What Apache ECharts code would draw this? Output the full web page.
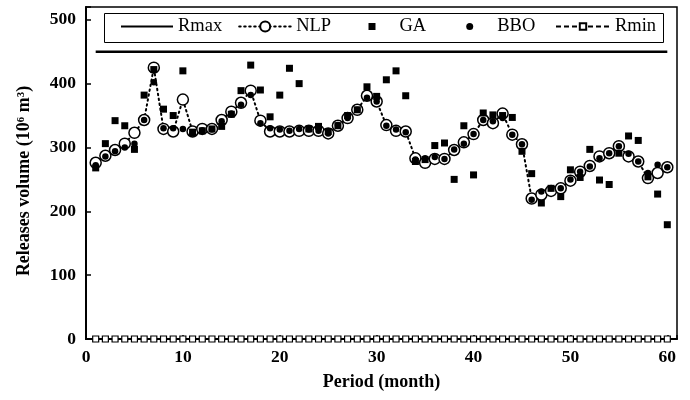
<!DOCTYPE html>
<html>
<head>
<meta charset="utf-8">
<script src="https://cdn.jsdelivr.net/npm/echarts@6/dist/echarts.min.js"></script>
<style>html,body{margin:0;padding:0;background:#fff}#c{width:690px;height:400px}</style>
</head>
<body>
<div id="c"></div>
<script>
const months = [1,2,3,4,5,6,7,8,9,10,11,12,13,14,15,16,17,18,19,20,21,22,23,24,25,26,27,28,29,30,31,32,33,34,35,36,37,38,39,40,41,42,43,44,45,46,47,48,49,50,51,52,53,54,55,56,57,58,59,60];
const rmax = [450,450,450,450,450,450,450,450,450,450,450,450,450,450,450,450,450,450,450,450,450,450,450,450,450,450,450,450,450,450,450,450,450,450,450,450,450,450,450,450,450,450,450,450,450,450,450,450,450,450,450,450,450,450,450,450,450,450,450,450];
const rmin = [0,0,0,0,0,0,0,0,0,0,0,0,0,0,0,0,0,0,0,0,0,0,0,0,0,0,0,0,0,0,0,0,0,0,0,0,0,0,0,0,0,0,0,0,0,0,0,0,0,0,0,0,0,0,0,0,0,0,0,0];
const nlp = [276,287,296,306,323,343,425,329,325,375, 325,329,329,343,356,370,389,342,325,325, 325,326,326,326,322,334,346,359,381,372, 335,326,325,283,276,282,282,296,308,321, 343,338,353,320,305,220,226,232,236,248, 262,271,286,291,302,286,278,252,260,269];
const bbo = [272,286,294,300,306,343,402,330,330,329, 322,327,328,341,353,367,382,338,330,328, 326,329,328,326,322,335,346,359,378,372, 334,328,324,281,283,285,282,297,306,321, 343,341,346,320,305,218,231,236,236,250, 262,270,283,291,302,290,278,260,273,269];
const ga = [268,306,342,334,297,382,422,360,350,420, 324,326,329,333,352,389,429,390,348,382, 424,400,329,333,325,334,350,359,395,380, 406,420,381,278,281,303,307,250,334,257, 354,351,350,347,294,259,213,236,223,265, 253,297,249,242,291,318,311,254,227,179];
const xTicks = [0,10,20,30,40,50,60];
const yTicks = [0,100,200,300,400,500];

const pair = arr => months.map((m,i)=>[m,arr[i]]);
const F = '"Liberation Serif","Times New Roman",serif';
const legendText = {fontFamily:F,fontSize:18.5,color:'#000'};

const chart = echarts.init(document.getElementById('c'));
chart.setOption({
  animation:false,
  backgroundColor:'#fff',
  grid:{left:86,right:13,top:7,bottom:61,show:true,borderColor:'#000',borderWidth:1.5,containLabel:false},
  graphic:[{type:'rect',shape:{x:104.5,y:13.5,width:559,height:29},style:{fill:'#fff',stroke:'#000',lineWidth:1},z:50}],
  legend:[
    {left:120, top:17, padding:0, itemGap:16, itemWidth:52, itemHeight:12.5, selectedMode:false, z:60,
      textStyle:legendText, data:['Rmax','NLP']},
    {left:368.5, top:17, padding:0, itemGap:40, itemWidth:7, itemHeight:7, selectedMode:false, z:60,
      textStyle:Object.assign({padding:[0,0,0,19]},legendText), data:['GA','BBO']},
    {left:555, top:17, padding:0, itemWidth:54, itemHeight:8, selectedMode:false, z:60,
      textStyle:legendText, data:['Rmin']}
  ],
  xAxis:{
    type:'value', min:0, max:61, interval:10,
    axisLine:{lineStyle:{color:'#000',width:2}},
    axisTick:{inside:true,length:4,lineStyle:{color:'#000',width:1.5}},
    splitLine:{show:false},
    axisLabel:{color:'#000',fontFamily:F,fontWeight:'bold',fontSize:17.5,margin:9,
      formatter:v=>xTicks.indexOf(v)>=0?String(v):''},
    name:'Period (month)', nameLocation:'middle', nameGap:34,
    nameTextStyle:{color:'#000',fontFamily:F,fontWeight:'bold',fontSize:18}
  },
  yAxis:{
    type:'value', min:0, max:520, interval:100,
    axisLine:{show:true,lineStyle:{color:'#000',width:2}},
    axisTick:{show:true,inside:true,length:5,lineStyle:{color:'#000',width:1.5}},
    splitLine:{show:false},
    axisLabel:{color:'#000',fontFamily:F,fontWeight:'bold',fontSize:17.5,margin:10,
      formatter:v=>yTicks.indexOf(v)>=0?String(v):''},
    name:'Releases volume (10⁶ m³)', nameLocation:'middle', nameGap:53,
    nameTextStyle:{color:'#000',fontFamily:F,fontWeight:'bold',fontSize:18,padding:[0,16,0,0]}
  },
  series:[
    {name:'Rmax',type:'line',data:pair(rmax),symbol:'none',
      lineStyle:{color:'#000',width:2.5},
      itemStyle:{color:'rgba(0,0,0,0)',borderColor:'rgba(0,0,0,0)',borderWidth:0},z:2},
    {name:'NLP',type:'line',data:pair(nlp),symbol:'circle',symbolSize:11,
      lineStyle:{color:'#000',width:2,type:[1.5,3.5],cap:'round'},
      itemStyle:{color:'#fff',borderColor:'#000',borderWidth:1.5},z:3},
    {name:'GA',type:'scatter',data:pair(ga),symbol:'rect',symbolSize:7,itemStyle:{color:'#000',opacity:1},z:4},
    {name:'BBO',type:'scatter',data:pair(bbo),symbol:'circle',symbolSize:6.5,itemStyle:{color:'#000',opacity:1},z:5},
    {name:'Rmin',type:'line',data:pair(rmin),symbol:'rect',symbolSize:6,
      lineStyle:{color:'#000',width:2,type:[5,3]},
      itemStyle:{color:'#fff',borderColor:'#000',borderWidth:1.2},z:6}
  ]
});
</script>
</body>
</html>
